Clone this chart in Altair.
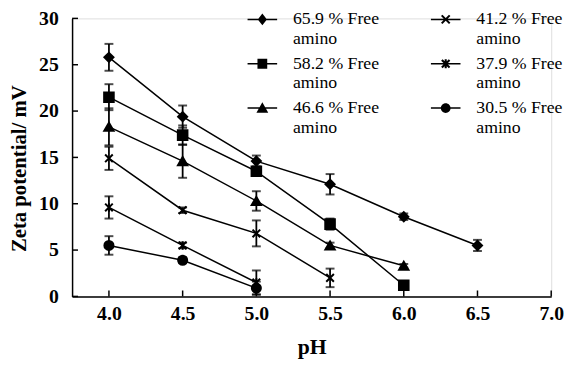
import altair as alt
import pandas as pd

series_names = ["65.9 % Free amino", "58.2 % Free amino", "46.6 % Free amino",
                "41.2 % Free amino", "37.9 % Free amino", "30.5 % Free amino"]

ph_659 = [4.0, 4.5, 5.0, 5.5, 6.0, 6.5]
zeta_659 = [25.8, 19.4, 14.6, 12.1, 8.6, 5.5]
err_659 = [1.45, 1.2, 0.6, 1.1, 0.35, 0.6]

ph_582 = [4.0, 4.5, 5.0, 5.5, 6.0]
zeta_582 = [21.5, 17.4, 13.5, 7.8, 1.2]
err_582 = [1.4, 1.05, 0.5, 0.6, 0.2]

ph_466 = [4.0, 4.5, 5.0, 5.5, 6.0]
zeta_466 = [18.3, 14.6, 10.3, 5.5, 3.3]
err_466 = [2.0, 1.8, 1.05, 0.3, 0.2]

ph_412 = [4.0, 4.5, 5.0, 5.5]
zeta_412 = [14.9, 9.3, 6.8, 2.0]
err_412 = [1.25, 0.3, 1.4, 1.0]

ph_379 = [4.0, 4.5, 5.0]
zeta_379 = [9.6, 5.5, 1.5]
err_379 = [1.2, 0.3, 1.3]

ph_305 = [4.0, 4.5, 5.0]
zeta_305 = [5.5, 3.9, 0.9]
err_305 = [1.0, 0.3, 0.7]

x_ticks = [4.0, 4.5, 5.0, 5.5, 6.0, 6.5, 7.0]
y_ticks = [0, 5, 10, 15, 20, 25, 30]

rows = []
for name, xs, ys, es in zip(
    series_names,
    [ph_659, ph_582, ph_466, ph_412, ph_379, ph_305],
    [zeta_659, zeta_582, zeta_466, zeta_412, zeta_379, zeta_305],
    [err_659, err_582, err_466, err_412, err_379, err_305],
):
    for x, y, e in zip(xs, ys, es):
        rows.append({"series": name, "pH": x, "zeta": y, "lo": y - e, "hi": y + e})
df = pd.DataFrame(rows)

W, H = 486, 282
FONT = "Times New Roman, Liberation Serif, DejaVu Serif, serif"

xscale = alt.Scale(domain=[3.75, 7.0], nice=False, zero=False)
yscale = alt.Scale(domain=[0, 30], nice=False)

X_PATH = "M-1,-1L1,1M-1,1L1,-1"
AST_PATH = "M-1,-1L1,1M-1,1L1,-1M0,-1.1L0,1.1"
point_shapes = ["diamond", "square", "triangle-up", X_PATH, AST_PATH, "circle"]
point_filled = [True, True, True, False, False, True]
point_sizes = [85, 95, 90, 60, 60, 85]


# legend symbols: fill-only paths inside the unit box (unit = 15 px): a line plus the marker
def rect(x0, y0, x1, y1):
    return f"M{x0},{y0}H{x1}V{y1}H{x0}Z"

LINE = rect(-1, -0.05, 1, 0.05)

def xcross(a, t):
    u = t / 1.4142
    r1 = f"M{-a+u},{-a-u}L{a+u},{a-u}L{a-u},{a+u}L{-a-u},{-a+u}Z"
    r2 = f"M{-a-u},{a-u}L{a-u},{-a-u}L{a+u},{-a+u}L{-a+u},{a+u}Z"
    return r1 + r2

leg_paths = [
    LINE + "M0,-0.4L0.31,0L0,0.4L-0.31,0Z",
    LINE + rect(-0.33, -0.33, 0.33, 0.33),
    LINE + "M0,-0.4L0.4,0.32L-0.4,0.32Z",
    LINE + xcross(0.27, 0.07),
    LINE + xcross(0.26, 0.07) + rect(-0.07, -0.31, 0.07, 0.31),
    LINE + "M0.33,0A0.33,0.33 0 1,1 -0.33,0A0.33,0.33 0 1,1 0.33,0Z",
]

x_enc = alt.X("pH:Q", scale=xscale, axis=alt.Axis(
    values=x_ticks, format=".1f", title="pH", tickSize=0, grid=False,
    labelFont=FONT, labelFontWeight="bold", labelFontSize=20, labelColor="black",
    labelPadding=7, titleFont=FONT, titleFontWeight="bold", titleFontSize=22,
    titleColor="black", titlePadding=14, domainColor="black", domainWidth=1.5,
    labelFlush=False))
y_enc = alt.Y("zeta:Q", scale=yscale, axis=alt.Axis(
    values=y_ticks, title="Zeta potential/ mV", tickSize=0, grid=False,
    labelFont=FONT, labelFontWeight="bold", labelFontSize=20, labelColor="black",
    labelPadding=14, titleFont=FONT, titleFontWeight="bold", titleFontSize=21,
    titleColor="black", titlePadding=9, titleY=152, domainColor="black", domainWidth=1.5,
    labelFlush=False))

base = alt.Chart(df)

lines = base.mark_line(color="black", strokeWidth=1.5).encode(
    x=x_enc, y=y_enc, detail="series:N")

bars = base.mark_rule(color="black", strokeWidth=1.8).encode(
    x=alt.X("pH:Q", scale=xscale), y=alt.Y("lo:Q", scale=yscale), y2="hi:Q")
cap_lo = base.mark_tick(color="black", orient="horizontal", size=9, thickness=2).encode(
    x=alt.X("pH:Q", scale=xscale), y=alt.Y("lo:Q", scale=yscale))
cap_hi = base.mark_tick(color="black", orient="horizontal", size=9, thickness=2).encode(
    x=alt.X("pH:Q", scale=xscale), y=alt.Y("hi:Q", scale=yscale))

point_layers = []
for name, shp, fl, sz in zip(series_names, point_shapes, point_filled, point_sizes):
    point_layers.append(
        base.transform_filter(alt.datum.series == name).mark_point(
            shape=shp, filled=fl, fill="black" if fl else "transparent",
            stroke="black", strokeWidth=2, size=sz, opacity=1).encode(
            x=alt.X("pH:Q", scale=xscale), y=alt.Y("zeta:Q", scale=yscale)))

legend_layer = base.mark_point(opacity=0, filled=True, color="black").encode(
    x=alt.X("pH:Q", scale=xscale), y=alt.Y("zeta:Q", scale=yscale),
    shape=alt.Shape("series:N", scale=alt.Scale(domain=series_names, range=leg_paths),
                    legend=alt.Legend(
                        title=None, orient="none", legendX=177, legendY=-15,
                        columns=2, direction="vertical", columnPadding=49, rowPadding=-3,
                        symbolSize=900, symbolOpacity=1, symbolFillColor="black",
                        labelFont=FONT, labelFontSize=18, labelColor="black",
                        labelOffset=15, labelLimit=250, labelBaseline="middle",
                        labelExpr="[replace(datum.label, ' amino', ''), 'amino']")))

xt = alt.Chart(pd.DataFrame({"v": x_ticks})).mark_rule(color="black", strokeWidth=1.5).encode(
    x=alt.X("v:Q", scale=xscale), y=alt.value(H), y2=alt.value(H - 6))
yt = alt.Chart(pd.DataFrame({"v": y_ticks})).mark_rule(color="black", strokeWidth=1.5).encode(
    y=alt.Y("v:Q", scale=yscale), x=alt.value(0), x2=alt.value(6))

chart = alt.layer(lines, bars, cap_lo, cap_hi, *point_layers, legend_layer, xt, yt).properties(
    width=W, height=H,
    autosize=alt.AutoSizeParams(type="none"),
    padding={"left": 65, "top": 8, "right": 14, "bottom": 65},
).configure_view(stroke=None).configure(background="white")

chart.save("out.html", embed_options={"renderer": "svg", "actions": False})
